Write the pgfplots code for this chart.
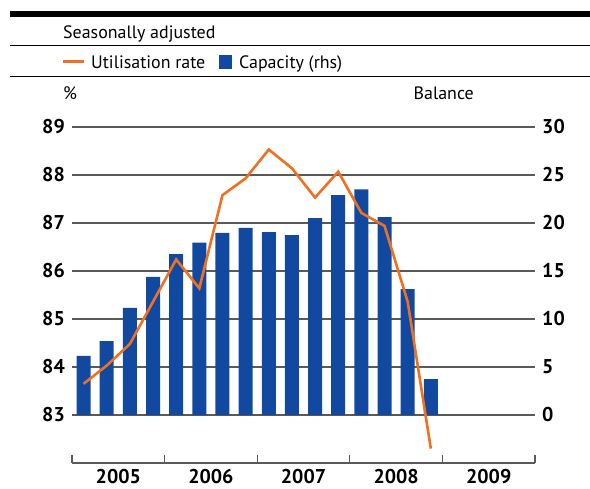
\documentclass[border=0pt]{standalone}
\usepackage{pgfplots}
\pgfplotsset{compat=1.18}
\usepackage{fontspec}
\setmainfont{PT Sans}
\definecolor{barblue}{HTML}{1249A0}
\definecolor{lineorange}{HTML}{F07022}
\definecolor{gridgray}{HTML}{5A5A5A}
\newcommand\tickfont{\fontsize{20}{22}\selectfont\bfseries}
\newcommand\txtfont{\fontsize{18}{21}\selectfont}
\begin{document}
\begin{tikzpicture}
\begin{scope}[x=1bp,y=-1bp]
\fill[black] (10,11) rectangle (590,16.7);
\draw[line width=1bp] (10,45.7) -- (590,45.7);
\draw[line width=1bp] (10,76.7) -- (590,76.7);
\node[anchor=base west, font=\txtfont, inner sep=0] at (63,38) {Seasonally adjusted};
\draw[lineorange, line width=2.6bp] (63,61.7) -- (84,61.7);
\node[anchor=base west, font=\txtfont, inner sep=0] at (91,68.3) {Utilisation rate};
\fill[barblue] (219,55) rectangle (232,69);
\node[anchor=base west, font=\txtfont, inner sep=0] at (239,68.3) {Capacity (rhs)};
\node[anchor=base west, font=\txtfont, inner sep=0] at (63,99) {\%};
\node[anchor=base east, font=\txtfont, inner sep=0] at (474,99) {Balance};
\end{scope}

\begin{axis}[
  at={(72bp,-463bp)}, anchor=south west, scale only axis,
  width=463bp, height=336bp,
  xmin=0, xmax=20, ymin=-5, ymax=30,
  axis x line=none,
  axis y line*=right,
  y axis line style={draw=none},
  ytick={0,5,...,30},
  ytick style={draw=none},
  ymajorgrids=true,
  grid style={gridgray, line width=1.2bp},
  yticklabel style={font=\tickfont, inner sep=0pt, xshift=7bp},
  /pgf/number format/assume math mode=true,
]
\addplot[ybar, bar width=14bp, bar shift=0pt, fill=barblue, draw=none] coordinates {
(0.5,6.15) (1.5,7.7) (2.5,11.15) (3.5,14.4) (4.5,16.77) (5.5,17.95) (6.5,18.96) (7.5,19.48)
(8.5,19.06) (9.5,18.75) (10.5,20.5) (11.5,22.9) (12.5,23.5) (13.5,20.6) (14.5,13.1) (15.5,3.75)
};
\end{axis}

\begin{axis}[
  at={(72bp,-463bp)}, anchor=south west, scale only axis,
  width=463bp, height=336bp,
  xmin=0, xmax=20, ymin=82, ymax=89,
  axis x line*=bottom,
  axis y line*=left,
  x axis line style={-, draw=gridgray, line width=1.2bp},
  y axis line style={draw=none},
  ytick={83,84,...,89},
  ytick style={draw=none},
  yticklabel style={font=\tickfont, inner sep=0pt, xshift=-7bp},
  xtick={0,4,...,20},
  xticklabels={,,,,,},
  xtick style={gridgray, line width=1.2bp},
  tick align=inside,
  major tick length=8bp,
  extra x ticks={2,6,10,14,18},
  extra x tick labels={2005,2006,2007,2008,2009},
  extra x tick style={major tick length=0pt, xticklabel style={font=\tickfont, inner sep=0pt, anchor=base, yshift=-20.5bp}},
  /pgf/number format/assume math mode=true,
]
\addplot[lineorange, line width=2.6bp, line join=miter] coordinates {
(0.5,83.65) (1.5,84.03) (2.5,84.48) (3.5,85.36) (4.5,86.24) (5.5,85.64) (6.5,87.58) (7.5,87.93)
(8.5,88.53) (9.5,88.14) (10.5,87.53) (11.5,88.07) (12.5,87.21) (13.5,86.94) (14.5,85.36) (15.5,82.3)
};
\end{axis}
\pgfresetboundingbox
\path[use as bounding box] (0,0) rectangle (590bp,-489bp);
\end{tikzpicture}
\end{document}
